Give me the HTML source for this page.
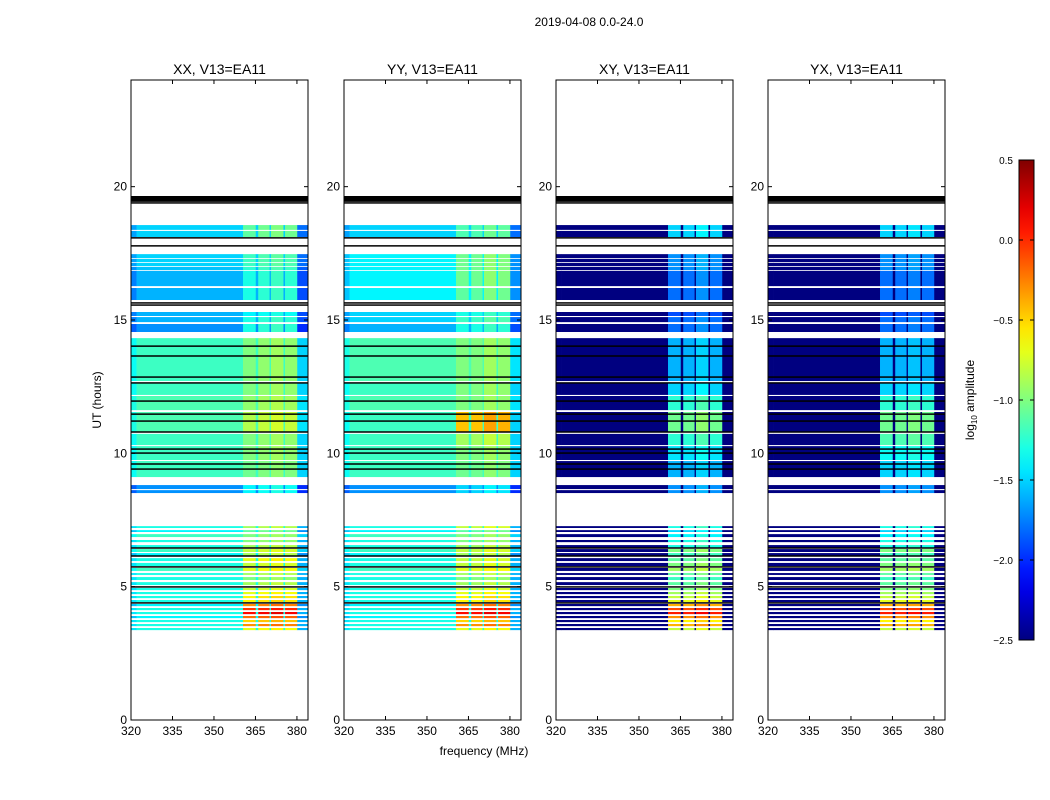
<!DOCTYPE html>
<html><head><meta charset="utf-8"><style>
html,body{margin:0;padding:0;background:#fff;}
svg{display:block;font-family:"Liberation Sans",sans-serif;}
</style></head><body>
<svg id="fig" width="1050" height="800" viewBox="0 0 1050 800" xmlns="http://www.w3.org/2000/svg">
<text x="589" y="26" font-size="12" text-anchor="middle">2019-04-08 0.0-24.0</text>
<text x="484" y="755" font-size="12" text-anchor="middle">frequency (MHz)</text>
<text transform="translate(101,400) rotate(-90)" font-size="12" text-anchor="middle">UT (hours)</text>
<g id="panels"></g>
<g id="cbar"></g>
</svg>
<script>
// ---- data ----
const panelNames = ["XX, V13=EA11","YY, V13=EA11","XY, V13=EA11","YX, V13=EA11"];
const rowStart = [18.56,18.34,17.47,17.29,17.14,16.99,16.84,16.20,15.30,15.11,14.85,14.32,12.64,12.15,11.55,10.73,10.27,9.71,8.81,8.62,
 7.27,7.12,6.97,6.75,6.56,6.41,6.26,6.07,5.89,5.70,5.51,5.36,5.17,4.95,4.80,4.65,4.50,4.35,4.20,4.05,3.90,3.75,3.60,3.45];
const rowEnd = [18.38,18.11,17.32,17.17,17.02,16.87,16.27,15.75,15.15,14.92,14.55,12.71,12.19,11.62,10.80,10.31,9.75,9.11,8.66,8.51,
 7.20,7.05,6.86,6.67,6.45,6.30,6.15,5.96,5.77,5.59,5.44,5.25,5.06,4.87,4.72,4.57,4.42,4.27,4.12,3.97,3.82,3.67,3.52,3.37];
const xxFlat = [-1.5,-1.5,-1.5,-1.5,-1.5,-1.55,-1.6,-1.6,-1.6,-1.6,-1.7,-1.2,-1.2,-1.15,-1.15,-1.2,-1.2,-1.2,-1.7,-1.7,
 -1.3,-1.4,-1.2,-1.3,-1.3,-1.2,-1.4,-1.3,-1.3,-1.2,-1.3,-1.3,-1.3,-1.3,-1.3,-1.3,-1.3,-1.4,-1.3,-1.3,-1.4,-1.3,-1.3,-1.3];
const xxPeak = [-1.1,-1.1,-1.2,-1.2,-1.2,-1.25,-1.3,-1.3,-1.4,-1.3,-1.3,-1.0,-1.0,-0.95,-0.85,-1.0,-1.0,-1.05,-1.4,-1.4,
 -0.9,-1.1,-1.0,-1.0,-0.9,-0.8,-0.9,-0.7,-0.8,-0.7,-0.9,-1.0,-0.9,-0.8,-0.7,-0.6,-0.6,-0.3,-0.05,0.1,-0.2,-0.5,-0.3,-0.7];
const yyFlat = [-1.5,-1.5,-1.4,-1.4,-1.4,-1.4,-1.4,-1.4,-1.5,-1.5,-1.6,-1.15,-1.2,-1.15,-1.2,-1.2,-1.2,-1.2,-1.7,-1.7,
 -1.3,-1.4,-1.2,-1.3,-1.3,-1.2,-1.4,-1.3,-1.3,-1.2,-1.3,-1.3,-1.3,-1.3,-1.3,-1.3,-1.3,-1.4,-1.3,-1.3,-1.4,-1.3,-1.3,-1.3];
const yyPeak = [-1.15,-1.15,-1.05,-1.05,-1.05,-1.05,-1.05,-1.1,-1.3,-1.2,-1.3,-1.0,-1.0,-1.0,-0.45,-0.9,-1.0,-1.05,-1.5,-1.5,
 -0.8,-1.1,-1.0,-1.0,-0.9,-0.8,-0.9,-0.8,-0.8,-0.7,-0.9,-1.0,-0.9,-0.8,-0.7,-0.6,-0.6,-0.3,-0.05,0.1,-0.2,-0.5,-0.3,-0.7];
const xyPeak = [-1.5,-1.5,-1.7,-1.7,-1.7,-1.7,-1.8,-1.8,-1.9,-1.8,-1.8,-1.6,-1.5,-1.25,-1.05,-1.25,-1.45,-1.6,-1.7,-1.7,
 -1.3,-1.5,-1.4,-1.3,-1.3,-1.0,-1.2,-1.1,-1.0,-0.9,-1.1,-1.2,-1.1,-1.0,-0.9,-0.8,-0.7,-0.4,-0.1,0.05,-0.3,-0.6,-0.4,-0.8];
const yxPeak = [-1.5,-1.5,-1.7,-1.7,-1.7,-1.7,-1.8,-1.8,-1.9,-1.8,-1.8,-1.6,-1.5,-1.25,-1.05,-1.15,-1.35,-1.5,-1.7,-1.7,
 -1.3,-1.5,-1.4,-1.3,-1.3,-1.0,-1.2,-1.1,-1.0,-0.9,-1.1,-1.2,-1.1,-1.0,-0.9,-0.8,-0.7,-0.4,-0.1,0.05,-0.3,-0.6,-0.4,-0.8];
const peakOffset = [[0,0.05,0.1,0.05],[0,0,0.1,0.05],[0,0,0.1,0],[0,0,0.05,0]];
const peakLo = [360.5,366,370.6,375.7];
const peakHi = [365,370,375,380];
const blackLines = [19.39,18.08,17.78,15.64,15.56,14.02,13.65,12.86,12.64,11.96,11.47,11.21,10.8,10.16,10.01,9.6,9.41,6.45,6.15,5.74,4.99,4.39];
const thickBand = [19.43,19.65];
const xTicks = [320,335,350,365,380];
const yTicks = [0,5,10,15,20];
const cbTicks = [0.5,0.0,-0.5,-1.0,-1.5,-2.0,-2.5];
const cbLabels = ["0.5","0.0","\u22120.5","\u22121.0","\u22121.5","\u22122.0","\u22122.5"];

// ---- scales ----
const panelX = [131,344,556,768], PW = 177, PT = 80, PB = 720;
const fMin = 320, fMax = 384, hMin = 0, hMax = 24, vMin = -2.5, vMax = 0.5;
const xs = (p,f) => panelX[p] + (f - fMin) / (fMax - fMin) * PW;
const ys = h => PB - (h - hMin) / (hMax - hMin) * (PB - PT);
function jet(v){
  let t = Math.max(0, Math.min(1, (v - vMin) / (vMax - vMin)));
  const c = x => Math.round(255 * Math.max(0, Math.min(1, x)));
  const r = c(1.5 - Math.abs(4*t - 3)), g = c(1.5 - Math.abs(4*t - 2)), b = c(1.5 - Math.abs(4*t - 1));
  return `rgb(${r},${g},${b})`;
}
const NS = "http://www.w3.org/2000/svg";
function mk(tag, attrs, parent){ const e = document.createElementNS(NS, tag); for (const k in attrs) e.setAttribute(k, attrs[k]); parent.appendChild(e); return e; }

const panels = document.getElementById("panels");
const flats = [xxFlat, yyFlat, null, null];
const peaks = [xxPeak, yyPeak, xyPeak, yxPeak];
for (let p = 0; p < 4; p++){
  const g = mk("g", {}, panels);
  
  
  const hm = mk("g", {}, g);
  
  
  for (let r = 0; r < rowStart.length; r++){
    const y0 = ys(rowStart[r]), y1 = ys(rowEnd[r]);
    const flat = flats[p] ? flats[p][r] : -2.5;
    const segs = [[320,322,flat-0.15],[322,360.5,flat],[365,366,flat],[370,370.6,flat],[375,375.7,flat],[380,384,flat-0.3]];
    for (let k = 0; k < 4; k++) segs.push([peakLo[k], peakHi[k], peaks[p][r] + peakOffset[p][k]]);
    for (const s of segs){
      const rc = mk("rect", {x: xs(p,s[0]).toFixed(2), y: y0.toFixed(2), width: (xs(p,s[1]) - xs(p,s[0]) + 0.3).toFixed(2), height: (y1 - y0).toFixed(2), fill: jet(s[2])}, hm);
      
      
    }
  }
  for (const h of blackLines){
    const l = mk("rect", {x: panelX[p], y: (ys(h) - 0.75).toFixed(2), width: PW, height: 1.5, fill: "#000"}, g);
    
    
  }
  const tb = mk("rect", {x: panelX[p], y: ys(thickBand[1]), width: PW, height: ys(thickBand[0]) - ys(thickBand[1]), fill: "#000"}, g);
  
  
  const fr = mk("rect", {x: panelX[p], y: PT, width: PW, height: PB - PT, fill: "none", stroke: "#000", "stroke-width": 1}, g);
  
  
  const tt = mk("text", {x: panelX[p] + PW/2, y: 74, "font-size": 14, "text-anchor": "middle"}, g);
  tt.textContent = panelNames[p];
  
  
  for (let i = 0; i < xTicks.length; i++){
    const x = xs(p, xTicks[i]);
    mk("line", {x1: x, x2: x, y1: PB, y2: PB - 4, stroke: "#000"}, g);
    mk("line", {x1: x, x2: x, y1: PT, y2: PT + 4, stroke: "#000"}, g);
    const t = mk("text", {x: x, y: PB + 15, "font-size": 12, "text-anchor": "middle"}, g);
    t.textContent = xTicks[i];
    
    
  }
  for (let i = 0; i < yTicks.length; i++){
    const y = ys(yTicks[i]);
    mk("line", {x1: panelX[p], x2: panelX[p] + 4, y1: y, y2: y, stroke: "#000"}, g);
    mk("line", {x1: panelX[p] + PW, x2: panelX[p] + PW - 4, y1: y, y2: y, stroke: "#000"}, g);
    const t = mk("text", {x: panelX[p] - 4, y: y + 4, "font-size": 12, "text-anchor": "end"}, g);
    t.textContent = yTicks[i];
    
    
  }
}
// colorbar
const cb = document.getElementById("cbar");
const CBX = 1019, CBW = 15, CBT = 160, CBB = 640;
const cys = v => CBB - (v - vMin) / (vMax - vMin) * (CBB - CBT);
const defs = mk("defs", {}, cb);
const grad = mk("linearGradient", {id: "jetg", x1: 0, y1: 1, x2: 0, y2: 0}, defs);
for (let i = 0; i <= 20; i++) mk("stop", {offset: i/20, "stop-color": jet(vMin + i/20 * (vMax - vMin))}, grad);
mk("rect", {x: CBX, y: CBT, width: CBW, height: CBB - CBT, fill: "url(#jetg)", stroke: "#000", "stroke-width": 1}, cb);
for (let i = 0; i < cbTicks.length; i++){
  const y = cys(cbTicks[i]);
  mk("line", {x1: CBX, x2: CBX + 4, y1: y, y2: y, stroke: "#000"}, cb);
  mk("line", {x1: CBX + CBW, x2: CBX + CBW - 4, y1: y, y2: y, stroke: "#000"}, cb);
  const t = mk("text", {x: 1013, y: y + 4, "font-size": 10, "text-anchor": "end"}, cb);
  t.textContent = cbLabels[i];
  
  
}
const cl = mk("text", {transform: "translate(974,400) rotate(-90)", "font-size": 12, "text-anchor": "middle"}, cb);
cl.innerHTML = 'log<tspan font-size="8" dy="3">10</tspan><tspan dy="-3"> amplitude</tspan>';


</script>
</body></html>
